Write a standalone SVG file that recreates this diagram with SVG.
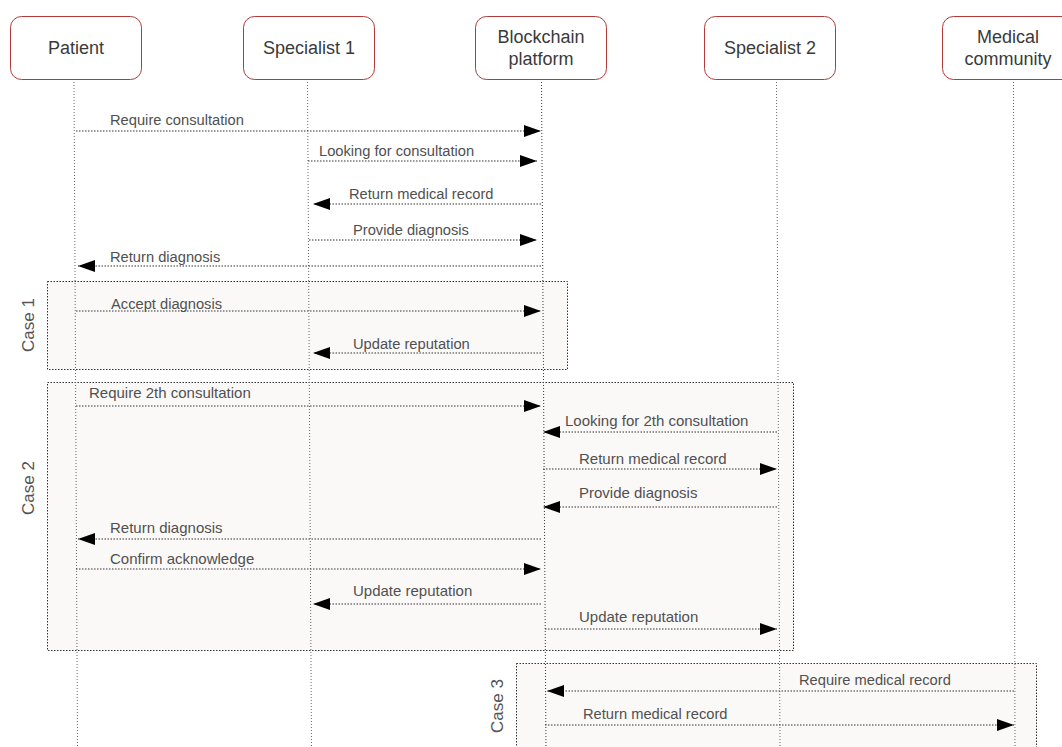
<svg xmlns="http://www.w3.org/2000/svg" width="1062" height="747" viewBox="0 0 1062 747">
<style>
.box{fill:#ffffff;stroke:#b23a3a;stroke-width:1}
.hd{font-family:"Liberation Sans",Arial,sans-serif;font-size:18px;fill:#3a3a3a;text-anchor:middle}
.life{stroke:#666666;stroke-width:1;stroke-dasharray:1 2;fill:none}
.msg{stroke:#333333;stroke-width:1;stroke-dasharray:1.5 1.5;fill:none}
.lbl{font-family:"Liberation Sans",Arial,sans-serif;font-size:14.7px;fill:#505050}
.lbl2{font-family:"Liberation Sans",Arial,sans-serif;font-size:15px;fill:#505050}
.frame{fill:#fbf9f8;stroke:#333333;stroke-width:1;stroke-dasharray:1.5 1.5}
.case{font-family:"Liberation Sans",Arial,sans-serif;font-size:17px;fill:#555555;text-anchor:middle}
</style>
<defs>
<marker id="ah" viewBox="0 0 17 12" refX="17" refY="6" markerWidth="17" markerHeight="12" markerUnits="userSpaceOnUse" orient="auto">
<path d="M0,0 L17,6 L0,12 Z" fill="#000000" stroke="none"/>
</marker>
</defs>
<rect width="1062" height="747" fill="#ffffff"/>
<g id="frames">
<g id="case1">
<rect class="frame" x="47.5" y="281.5" width="520" height="88"/>
<text class="case" transform="translate(34,325) rotate(-90)">Case 1</text>
</g>
<g id="case2">
<rect class="frame" x="47.5" y="382.5" width="746" height="268"/>
<text class="case" transform="translate(34,488) rotate(-90)">Case 2</text>
</g>
<g id="case3">
<rect class="frame" x="516.5" y="663.5" width="520" height="100"/>
<text class="case" transform="translate(503,706) rotate(-90)">Case 3</text>
</g>
</g>
<g id="node-patient">
<rect class="box" x="10.5" y="16.5" width="131" height="63" rx="11"/>
<text class="hd" x="76" y="54">Patient</text>
<line class="life" x1="74" y1="82" x2="77.5" y2="747"/>
</g>
<g id="node-specialist1">
<rect class="box" x="243.5" y="16.5" width="131" height="63" rx="11"/>
<text class="hd" x="309" y="54">Specialist 1</text>
<line class="life" x1="307.5" y1="82" x2="311.5" y2="747"/>
</g>
<g id="node-blockchain">
<rect class="box" x="475.5" y="16.5" width="131" height="63" rx="11"/>
<text class="hd" x="541" y="43">Blockchain</text>
<text class="hd" x="541" y="65">platform</text>
<line class="life" x1="541.5" y1="82" x2="546" y2="747" style="stroke:#333333"/>
</g>
<g id="node-specialist2">
<rect class="box" x="704.5" y="16.5" width="131" height="63" rx="11"/>
<text class="hd" x="770" y="54">Specialist 2</text>
<line class="life" x1="776.5" y1="82" x2="780" y2="747"/>
</g>
<g id="node-medical">
<rect class="box" x="942.5" y="16.5" width="131" height="63" rx="11"/>
<text class="hd" x="1008" y="43">Medical</text>
<text class="hd" x="1008" y="65">community</text>
<line class="life" x1="1013.5" y1="82" x2="1015" y2="747"/>
</g>
<g id="connectors">
<line class="msg" x1="76" y1="131" x2="541" y2="131" marker-end="url(#ah)"/>
<text class="lbl" x="110" y="125">Require consultation</text>
<line class="msg" x1="308" y1="161" x2="537" y2="161" marker-end="url(#ah)"/>
<text class="lbl" x="319" y="156">Looking for consultation</text>
<line class="msg" x1="541" y1="204" x2="313" y2="204" marker-end="url(#ah)"/>
<text class="lbl" x="349" y="199">Return medical record</text>
<line class="msg" x1="309" y1="240" x2="537" y2="240" marker-end="url(#ah)"/>
<text class="lbl" x="353" y="235">Provide diagnosis</text>
<line class="msg" x1="541" y1="266" x2="78" y2="266" marker-end="url(#ah)"/>
<text class="lbl" x="110" y="262">Return diagnosis</text>
<line class="msg" x1="76" y1="311" x2="541" y2="311" marker-end="url(#ah)"/>
<text class="lbl" x="111" y="309">Accept diagnosis</text>
<line class="msg" x1="541" y1="353" x2="313" y2="353" marker-end="url(#ah)"/>
<text class="lbl" x="353" y="349">Update reputation</text>
<line class="msg" x1="76" y1="406" x2="541" y2="406" marker-end="url(#ah)"/>
<text class="lbl2" x="89" y="398">Require 2th consultation</text>
<line class="msg" x1="777" y1="432" x2="543" y2="432" marker-end="url(#ah)"/>
<text class="lbl2" x="565" y="426">Looking for 2th consultation</text>
<line class="msg" x1="543" y1="469" x2="777" y2="469" marker-end="url(#ah)"/>
<text class="lbl2" x="579" y="464">Return medical record</text>
<line class="msg" x1="777" y1="507" x2="543" y2="507" marker-end="url(#ah)"/>
<text class="lbl2" x="579" y="498">Provide diagnosis</text>
<line class="msg" x1="541" y1="539" x2="78" y2="539" marker-end="url(#ah)"/>
<text class="lbl2" x="110" y="533">Return diagnosis</text>
<line class="msg" x1="76" y1="569" x2="541" y2="569" marker-end="url(#ah)"/>
<text class="lbl2" x="110" y="564">Confirm acknowledge</text>
<line class="msg" x1="541" y1="604" x2="313" y2="604" marker-end="url(#ah)"/>
<text class="lbl2" x="353" y="596">Update reputation</text>
<line class="msg" x1="545" y1="629" x2="777" y2="629" marker-end="url(#ah)"/>
<text class="lbl2" x="579" y="622">Update reputation</text>
<line class="msg" x1="1014" y1="691" x2="547" y2="691" marker-end="url(#ah)"/>
<text class="lbl" x="799" y="685">Require medical record</text>
<line class="msg" x1="545" y1="725" x2="1014" y2="725" marker-end="url(#ah)"/>
<text class="lbl" x="583" y="719">Return medical record</text>
</g>
</svg>
